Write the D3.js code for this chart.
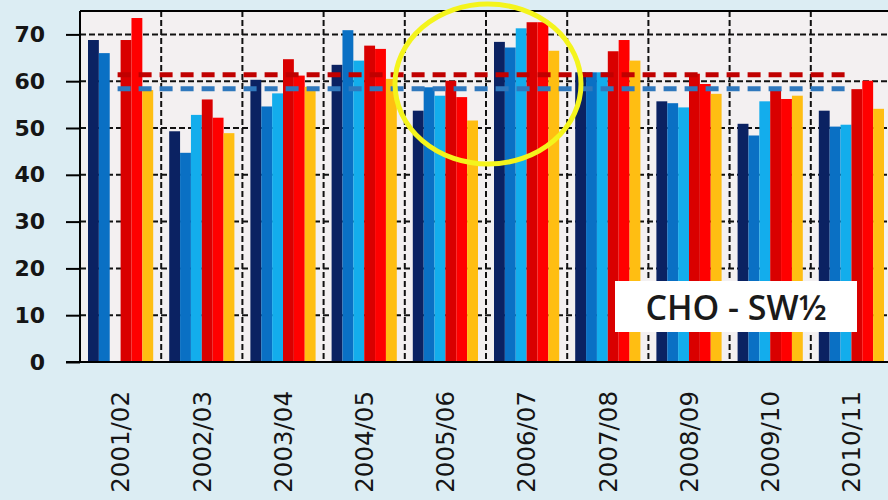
<!DOCTYPE html>
<html lang="en">
<head>
<meta charset="utf-8">
<script src="https://d3js.org/d3.v7.min.js"></script>
<style>
  html, body { margin: 0; padding: 0; background: #dcedf3; }
  svg { display: block; }
</style>
</head>
<body>
<svg class="chart"></svg>
<script type="text/javascript">
// seasons on the x axis
const seasons = ["2001/02", "2002/03", "2003/04", "2004/05", "2005/06",
                 "2006/07", "2007/08", "2008/09", "2009/10", "2010/11"];

// six series per season (null = no bar)
const navyVals   = [68.8, 49.3, 60.3, 63.5, 53.7, 68.4, 61.9, 55.7, 50.9, 53.7];
const blueVals   = [66.0, 44.7, 54.6, 70.9, 58.7, 67.2, 61.9, 55.3, 48.4, 50.3];
const skyVals    = [null, 52.8, 57.4, 64.4, 56.9, 71.3, 61.9, 54.4, 55.7, 50.7];
const darkRedVals = [68.8, 56.1, 64.7, 67.6, 60.1, 72.6, 66.4, 61.6, 58.0, 58.3];
const redVals    = [73.5, 52.2, 61.2, 66.9, 56.6, 72.6, 68.8, 59.4, 56.2, 60.1];
const orangeVals = [58.1, 48.9, 58.8, 60.5, 51.6, 66.5, 64.4, 57.3, 56.9, 54.1];

// dashed reference levels
const redAvg = 61.4;
const blueAvg = 58.4;

const yTicks = [0, 10, 20, 30, 40, 50, 60, 70];
const boxLabel = "CHO - SW½";

const series = [
  { key: "navy", values: navyVals, color: "#0b2262" },
  { key: "blue", values: blueVals, color: "#0a70c4" },
  { key: "sky", values: skyVals, color: "#13adec" },
  { key: "darkred", values: darkRedVals, color: "#d90000" },
  { key: "red", values: redVals, color: "#ff0000" },
  { key: "orange", values: orangeVals, color: "#ffbe12" }
];

const width = 888, height = 500;
const plot = { left: 80, right: 892, top: 11, bottom: 362 };

const svg = d3.select(".chart")
    .attr("width", width)
    .attr("height", height);

svg.append("rect")
    .attr("width", width).attr("height", height)
    .attr("fill", "#dcedf3");

const x0 = d3.scaleBand()
    .domain(seasons)
    .range([plot.left, plot.right])
    .paddingInner(0).paddingOuter(0);

const x1 = d3.scaleBand()
    .domain(series.map(s => s.key))
    .range([8, x0.bandwidth() - 8])
    .padding(0);

const y = d3.scaleLinear()
    .domain([0, 75])
    .range([plot.bottom, plot.top]);

// plot area
svg.append("rect")
    .attr("x", plot.left).attr("y", plot.top)
    .attr("width", plot.right - plot.left)
    .attr("height", plot.bottom - plot.top)
    .attr("fill", "#f3f0f1");

// horizontal dashed gridlines
svg.append("g")
    .selectAll("line")
    .data(yTicks.filter(t => t > 0))
    .join("line")
    .attr("x1", plot.left).attr("x2", plot.right)
    .attr("y1", d => y(d)).attr("y2", d => y(d))
    .attr("stroke", "#111")
    .attr("stroke-width", 2)
    .attr("stroke-dasharray", "6,3");

// vertical dashed separators between seasons
svg.append("g")
    .selectAll("line")
    .data(seasons.slice(1))
    .join("line")
    .attr("x1", d => x0(d)).attr("x2", d => x0(d))
    .attr("y1", plot.top).attr("y2", plot.bottom)
    .attr("stroke", "#111")
    .attr("stroke-width", 2)
    .attr("stroke-dasharray", "6,3");

// bars
const groups = svg.append("g")
    .selectAll("g")
    .data(seasons)
    .join("g")
    .attr("transform", d => `translate(${x0(d)},0)`);

groups.selectAll("rect")
    .data((d, i) => series
        .map(s => ({ key: s.key, color: s.color, value: s.values[i] }))
        .filter(b => b.value != null))
    .join("rect")
    .attr("x", d => x1(d.key))
    .attr("width", x1.bandwidth())
    .attr("y", d => y(d.value))
    .attr("height", d => y(0) - y(d.value))
    .attr("fill", d => d.color);

// reference dashed lines, from first to last season centre
const refLine = d3.line()
    .x(d => x0(d) + x0.bandwidth() / 2 - 3);

[[redAvg, "#c00000"], [blueAvg, "#2f78bd"]].forEach(([v, c]) => {
  svg.append("path")
      .datum([seasons[0], seasons[seasons.length - 1]])
      .attr("d", refLine.y(() => y(v)))
      .attr("fill", "none")
      .attr("stroke", c)
      .attr("stroke-width", 5)
      .attr("stroke-dasharray", "13,8");
});

// frame: left axis, top border, bottom axis
svg.append("line")
    .attr("x1", plot.left).attr("x2", plot.left)
    .attr("y1", plot.top).attr("y2", plot.bottom)
    .attr("stroke", "#000").attr("stroke-width", 2);
svg.append("line")
    .attr("x1", plot.left).attr("x2", plot.right)
    .attr("y1", plot.top).attr("y2", plot.top)
    .attr("stroke", "#000").attr("stroke-width", 2);
svg.append("line")
    .attr("x1", plot.left - 14).attr("x2", plot.right)
    .attr("y1", plot.bottom).attr("y2", plot.bottom)
    .attr("stroke", "#000").attr("stroke-width", 2);

// y axis ticks and labels
const yAxis = svg.append("g")
    .attr("transform", `translate(${plot.left},0)`)
    .call(d3.axisLeft(y).tickValues(yTicks).tickSize(14).tickPadding(21));
yAxis.select(".domain").remove();
yAxis.selectAll(".tick line").attr("stroke", "#000").attr("stroke-width", 2);
yAxis.selectAll(".tick text")
    .attr("fill", "#151515")
    .style("font-family", "'DejaVu Sans', Verdana, sans-serif")
    .style("font-weight", "bold")
    .style("font-size", "22px");

// rotated season labels
svg.append("g")
    .selectAll("text")
    .data(seasons)
    .join("text")
    .attr("transform", d => `translate(${x0(d) + x0.bandwidth() / 2},391) rotate(-90)`)
    .attr("text-anchor", "end")
    .attr("dy", "0.36em")
    .attr("fill", "#151515")
    .style("font-family", "'DejaVu Sans', Verdana, sans-serif")
    .style("font-size", "24.5px")
    .text(d => d);

// yellow highlight ellipse
svg.append("ellipse")
    .attr("cx", 488).attr("cy", 84)
    .attr("rx", 93).attr("ry", 80)
    .attr("fill", "none")
    .attr("stroke", "#f4f41c")
    .attr("stroke-width", 5);

// label box
svg.append("rect")
    .attr("x", 615).attr("y", 281)
    .attr("width", 242).attr("height", 51)
    .attr("fill", "#ffffff");
svg.append("text")
    .attr("x", 736).attr("y", 308)
    .attr("dy", "0.36em")
    .attr("text-anchor", "middle")
    .attr("fill", "#1a1a1a")
    .style("font-family", "'Open Sans', sans-serif")
    .style("font-weight", "600")
    .style("font-size", "34px")
    .text(boxLabel);
</script>
</body>
</html>
